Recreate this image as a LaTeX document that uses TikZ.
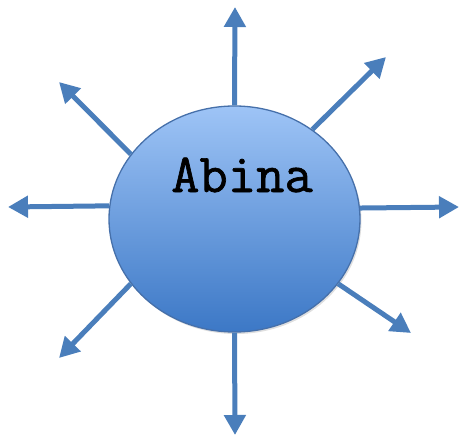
\documentclass[tikz,border=0pt]{standalone}
\usepackage{fontspec}
\usetikzlibrary{arrows.meta,shadows}
\newfontfamily\twfont[FakeBold=1.2]{Latin Modern Mono}
\definecolor{arrowblue}{RGB}{74,126,187}
\definecolor{balltop}{RGB}{158,196,246}
\definecolor{ballbot}{RGB}{60,120,198}
\definecolor{ballrim}{RGB}{70,112,170}
\tikzset{
  ray/.style={draw=arrowblue, line width=5pt, -{Triangle[length=20pt,width=21pt]}},
  ball/.style={ellipse, minimum width=251pt, minimum height=226pt, inner sep=0pt,
    draw=ballrim, line width=1.3pt, top color=balltop, bottom color=ballbot,
    drop shadow={opacity=0.25, shadow xshift=1.5pt, shadow yshift=-2pt}},
  label/.style={font=\twfont\fontsize{55}{55}\selectfont, text=black, inner sep=0pt, anchor=base}
}
\usetikzlibrary{shapes.geometric}
\begin{document}
\begin{tikzpicture}[x=1pt,y=-1pt]
\useasboundingbox (0,0) rectangle (461,439);
\node[ball] (c) at (234.5,219) {};
\node[label] (t) at (242,192) {Abina};
\coordinate (eU) at (235,7);
\coordinate (eD) at (235,435);
\coordinate (eL) at (8,207);
\coordinate (eR) at (459,207);
\coordinate (eUR) at (386,57);
\coordinate (eUL) at (59,82);
\coordinate (eDL) at (59,358);
\coordinate (eDR) at (411,333);
\draw[ray] (c.90) -- (eU);
\draw[ray] (c.270) -- (eD);
\draw[ray] (c.174.5) -- (eL);
\draw[ray] (c.5.5) -- (eR);
\draw[ray] (c.49.6) -- (eUR);
\draw[ray] (c.148) -- (eUL);
\draw[ray] (c.212) -- (eDL);
\draw[ray] (c.328.3) -- (eDR);
\end{tikzpicture}
\end{document}
